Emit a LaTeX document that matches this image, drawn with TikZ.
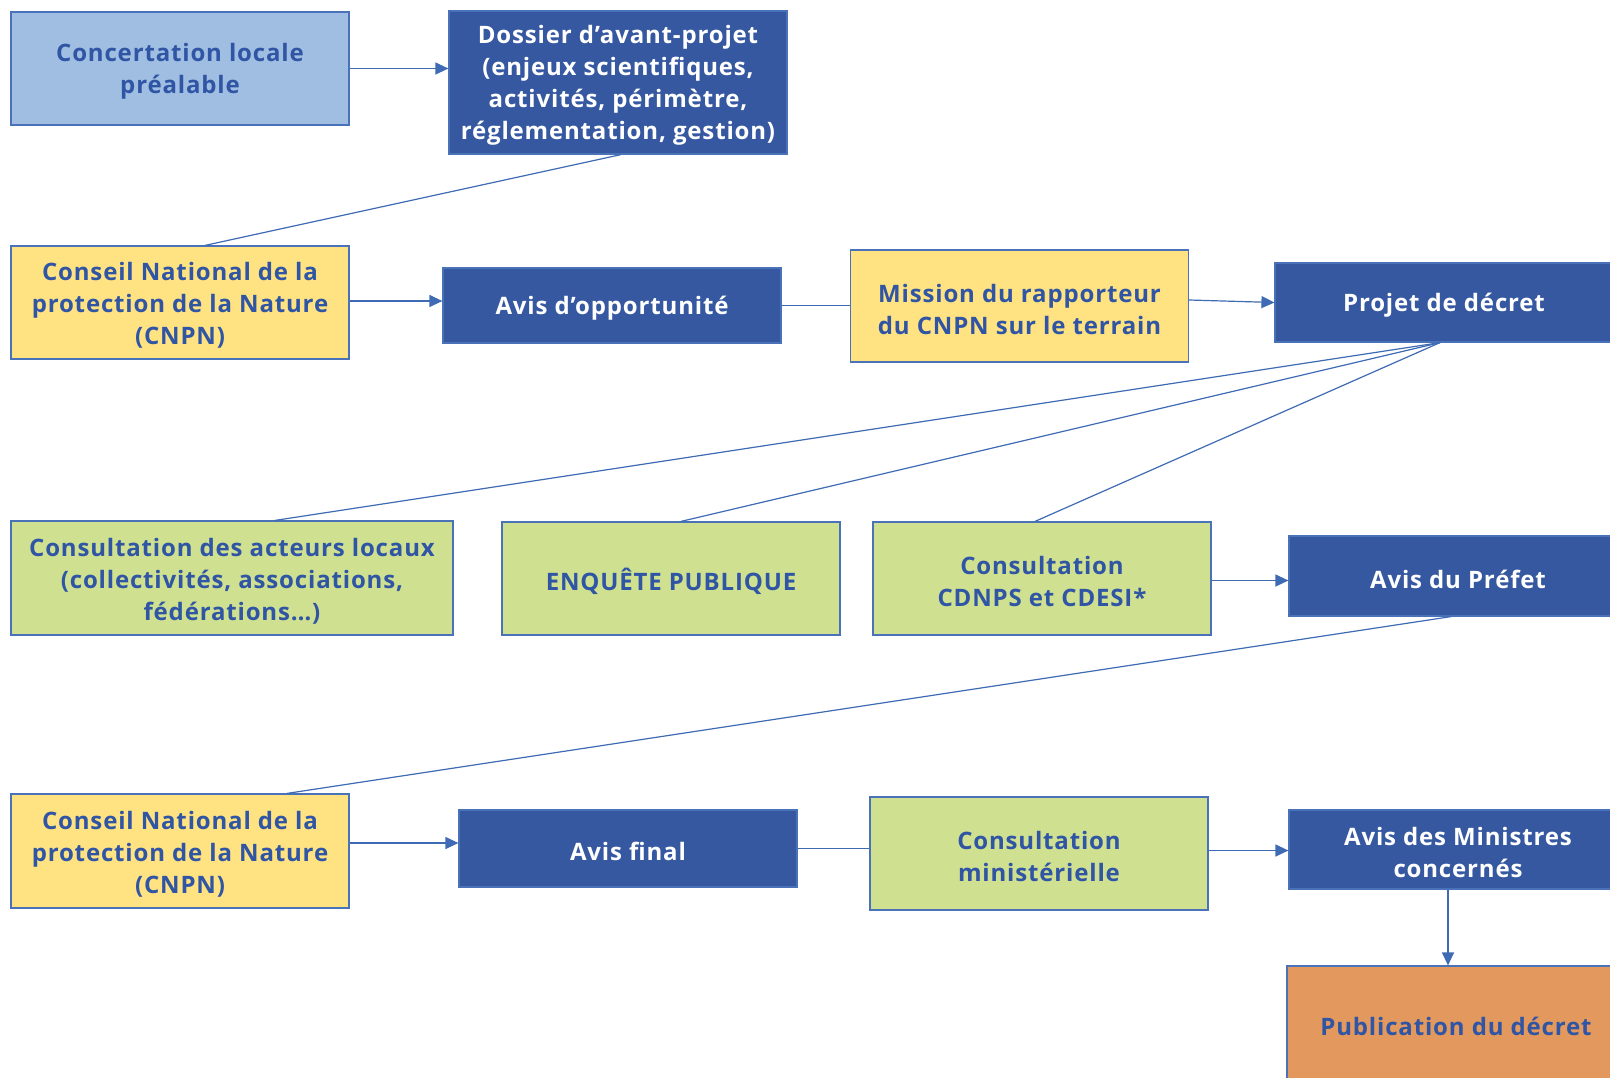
\documentclass[tikz,border=0pt]{standalone}
\usepackage{fontspec}
\setmainfont{Open Sans}[LetterSpace=3.5]
\usetikzlibrary{arrows.meta}
\definecolor{lblue}{HTML}{A0BEE2}
\definecolor{dblue}{HTML}{3558A1}
\definecolor{yel}{HTML}{FFE281}
\definecolor{grn}{HTML}{CFE090}
\definecolor{org}{HTML}{E3995D}
\definecolor{txtb}{HTML}{2F55A4}
\definecolor{edge}{HTML}{4A72B8}
\definecolor{conn}{HTML}{3E6BB3}
\tikzset{
  box/.style={draw=edge, line width=1.2pt, minimum width=338pt, inner sep=0pt},
  lab/.style={align=center, inner sep=0pt, yshift=-3pt, font=\fontsize{24}{32}\selectfont\bfseries},
  lightb/.style={box, fill=lblue},
  darkb/.style={box, fill=dblue},
  yelb/.style={box, fill=yel},
  grnb/.style={box, fill=grn},
  orgb/.style={box, fill=org},
  conline/.style={draw=conn, line width=1.2pt},
  arr/.style={conline, -{Triangle[length=13pt,width=12pt]}}
}
% #1 style, #2 name, #3 position, #4 height, #5 text colour, #6 text
\newcommand{\mybox}[6]{\node[#1, minimum height=#4pt, label={[lab, text=#5]center:{#6}}] (#2) at (#3) {};}
\begin{document}
\begin{tikzpicture}[x=1pt,y=-1pt]
\path[use as bounding box, fill=white] (0,0) rectangle (1610,1077);
\clip (0,0) rectangle (1610,1077);
\mybox{lightb}{conc}{180,68.5}{113}{txtb}{Concertation locale\\préalable}
\mybox{darkb}{doss}{618,82.5}{143}{white}{Dossier d’avant-projet\\ (enjeux scientifiques,\\activités, périmètre,\\réglementation, gestion)}
\mybox{yelb}{cnpn1}{180,302.5}{113}{txtb}{Conseil National de la\\protection de la Nature\\(CNPN)}
\mybox{darkb}{opp}{612,305.5}{75}{white}{Avis d’opportunité}
\mybox{yelb}{miss}{1019.5,306}{112}{txtb}{Mission du rapporteur\\du CNPN sur le terrain}
\mybox{darkb}{proj}{1444,302.5}{79}{white}{Projet de décret}
\mybox{grnb, minimum width=442pt}{act}{232,578}{114}{txtb}{Consultation des acteurs locaux\\(collectivités, associations,\\fédérations…)}
\mybox{grnb}{enq}{671,578.5}{113}{txtb}{ENQUÊTE PUBLIQUE}
\mybox{grnb}{cdn}{1042,578.5}{113}{txtb}{Consultation\\CDNPS et CDESI*}
\mybox{darkb}{pref}{1458,576}{80}{white}{Avis du Préfet}
\mybox{yelb}{cnpn2}{180,851}{114}{txtb}{Conseil National de la\\protection de la Nature\\(CNPN)}
\mybox{darkb}{final}{628,848.5}{77}{white}{Avis final}
\mybox{grnb}{cmin}{1039,853.5}{113}{txtb}{Consultation\\ministérielle}
\mybox{darkb}{mins}{1458,849.5}{79}{white}{Avis des Ministres\\concernés}
\mybox{orgb}{pub}{1456,1023}{114}{txtb}{Publication du décret}

\draw[arr] (conc.east) -- (conc.east -| doss.west);
\draw[conline] ([xshift=3pt]doss.south) -- ([xshift=25pt]cnpn1.north);
\draw[arr] ([yshift=1.5pt]cnpn1.east) -- ([yshift=1.5pt]cnpn1.east -| opp.west);
\draw[conline] (opp.east) -- (opp.east -| miss.west);
\draw[arr] ([yshift=6pt]miss.east) -- (proj.west);
\draw[conline] ([xshift=-4pt]proj.south) -- ([xshift=43pt]act.north);
\draw[conline] ([xshift=-4pt]proj.south) -- ([xshift=10pt]enq.north);
\draw[conline] ([xshift=-4pt]proj.south) -- ([xshift=-7pt]cdn.north);
\draw[arr] ([yshift=-2pt]cdn.east) -- ([yshift=-2pt]cdn.east -| pref.west);
\draw[conline] ([xshift=-7pt]pref.south) -- ([xshift=107pt]cnpn2.north);
\draw[arr] ([yshift=8pt]cnpn2.east) -- ([yshift=8pt]cnpn2.east -| final.west);
\draw[conline] (final.east) -- (final.east -| cmin.west);
\draw[arr] ([yshift=3pt]cmin.east) -- ([yshift=3pt]cmin.east -| mins.west);
\draw[arr] ([xshift=-10pt]mins.south) -- ([xshift=-10pt]mins.south |- pub.north);
\end{tikzpicture}
\end{document}
